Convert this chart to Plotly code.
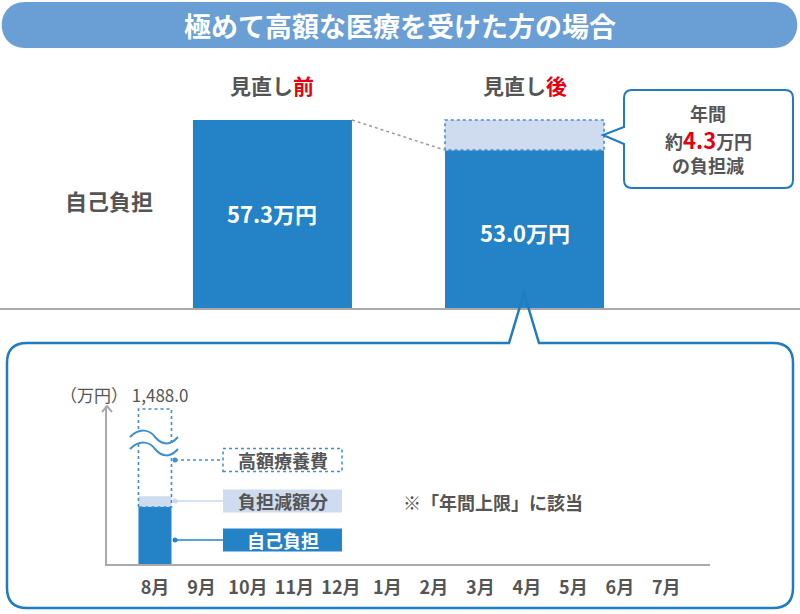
import plotly.graph_objects as go

W, H = 800, 614

# 見直し前後の自己負担（万円）
stages = ["見直し前", "見直し後"]
self_pay = [57.3, 53.0]
reduction = [None, 4.3]

# 月別（万円）
months = ["8月", "9月", "10月", "11月", "12月", "1月", "2月", "3月", "4月", "5月", "6月", "7月"]
month_self_pay = [53.0, None, None, None, None, None, None, None, None, None, None, None]
month_reduction = [4.3, None, None, None, None, None, None, None, None, None, None, None]
month_total = [1488.0, None, None, None, None, None, None, None, None, None, None, None]

BLUE = "#2383c6"
LIGHT = "#cfdcef"
BORDER = "#1f7bc2"
DOT_BLUE = "#3d8fd0"
GRAY = "#555555"
RED = "#e50012"
FONT = "Noto Sans CJK JP"

Y_FLOOR = 30.5       # 縦軸の下端（棒は途中から表示）
TOP_Y_MAX = 60.15
BOT_Y_MAX = 92.9
BREAK_CAP = 91.7     # 波線より上は省略


def px(x, y):
    return x / W, 1 - y / H


def path(cmds):
    # ピクセル座標のパスを paper 座標へ
    out = []
    for tok in cmds.split():
        if "," in tok:
            a, b = tok.split(",")
            xx, yy = px(float(a), float(b))
            out.append(f"{xx:.5f},{yy:.5f}")
        else:
            out.append(tok)
    return " ".join(out)


fig = go.Figure()

# ---- 上段 ----
xs = list(range(len(stages)))
bw = 0.631
fig.add_trace(go.Bar(x=xs, y=self_pay, width=bw, marker=dict(color=BLUE, line_width=0),
                     xaxis="x", yaxis="y", hoverinfo="skip"))
fig.add_trace(go.Bar(x=xs, y=reduction, base=self_pay, width=bw,
                     marker=dict(color=LIGHT, line_width=0), xaxis="x", yaxis="y", hoverinfo="skip"))
i = 1
x0, x1 = xs[i] - bw / 2, xs[i] + bw / 2
fig.add_trace(go.Scatter(x=[x0, x0, x1, x1, x0],
                         y=[self_pay[i], self_pay[i] + reduction[i], self_pay[i] + reduction[i], self_pay[i], self_pay[i]],
                         mode="lines", line=dict(color=DOT_BLUE, width=1.6, dash="dot"),
                         xaxis="x", yaxis="y", hoverinfo="skip"))
fig.add_trace(go.Scatter(x=[xs[0] + bw / 2, xs[1] - bw / 2], y=[self_pay[0], self_pay[1]],
                         mode="lines", line=dict(color="#999999", width=1.5, dash="dot"),
                         xaxis="x", yaxis="y", hoverinfo="skip"))

# ---- 下段 ----
mx = list(range(len(months)))
mw = 0.71
fig.add_trace(go.Bar(x=mx, y=month_self_pay, width=mw, marker=dict(color=BLUE, line_width=0),
                     xaxis="x2", yaxis="y2", hoverinfo="skip"))
fig.add_trace(go.Bar(x=mx, y=month_reduction, base=month_self_pay, width=mw,
                     marker=dict(color=LIGHT, line_width=0), xaxis="x2", yaxis="y2", hoverinfo="skip"))
for j, tot in enumerate(month_total):
    if tot is None:
        continue
    top = min(tot, BREAK_CAP)
    a, b = mx[j] - mw / 2, mx[j] + mw / 2
    s = month_self_pay[j]
    fig.add_trace(go.Scatter(x=[a, a, b, b, a], y=[s, top, top, s, s], mode="lines",
                             line=dict(color=DOT_BLUE, width=1.6, dash="dot"),
                             xaxis="x2", yaxis="y2", hoverinfo="skip"))

shapes = []
# タイトルの帯
shapes.append(dict(type="path", xref="paper", yref="paper",
                   path=path("M 25,2 L 774,2 C 805,2 805,48 774,48 L 25,48 C -6,48 -6,2 25,2 Z"),
                   fillcolor="#6a9fd5", line_width=0, layer="below"))
# 吹き出し（右）
shapes.append(dict(type="path", xref="paper", yref="paper",
                   path=path("M 632,90 L 785,90 Q 793,90 793,98 L 793,180 Q 793,188 785,188 "
                             "L 632,188 Q 624,188 624,180 L 624,144 L 603,135 L 624,127 L 624,98 Q 624,90 632,90 Z"),
                   fillcolor="white", line=dict(color=BORDER, width=2), layer="above"))
# 下段の枠
shapes.append(dict(type="path", xref="paper", yref="paper",
                   path=path("M 27,343 L 509,343 L 524,293 L 539,343 L 773,343 Q 793,343 793,363 "
                             "L 793,588 Q 793,608 773,608 L 27,608 Q 7,608 7,588 L 7,363 Q 7,343 27,343 Z"),
                   line=dict(color=BORDER, width=2.5), layer="above"))
# 縦軸の矢印
shapes.append(dict(type="path", xref="paper", yref="paper",
                   path=path("M 102,412 L 107,406 L 112,412"),
                   line=dict(color="#aaaaaa", width=2), layer="above"))
# 波線（省略記号）
shapes.append(dict(type="path", xref="paper", yref="paper",
                   path=path("M 130,437 C 140,427 150,430 155,437 C 162,445 170,446 178,437 "
                             "L 178,449 C 170,458 162,457 155,449 C 150,442 140,439 130,449 Z"),
                   fillcolor="white", line_width=0, layer="above"))
for dy in (0, 12):
    shapes.append(dict(type="path", xref="paper", yref="paper",
                       path=path(f"M 130,{437 + dy} C 140,{427 + dy} 150,{430 + dy} 155,{437 + dy} "
                                 f"C 162,{445 + dy} 170,{446 + dy} 178,{437 + dy}"),
                       line=dict(color=DOT_BLUE, width=2), layer="above"))

annotations = []


def ann(text, x, y, size, color=GRAY, weight="bold", xanchor="center", xref="paper"):
    xx, yy = px(x, y)
    if xref != "paper":
        xx = x
    annotations.append(dict(text=text, x=xx, y=yy, xref=xref, yref="paper", xanchor=xanchor,
                            yanchor="middle", showarrow=False,
                            font=dict(family=FONT, size=size, color=color, weight=weight)))


# 凡例ボックスと引き出し線
legend_items = [
    ("高額療養費", 460, "white", GRAY, dict(color=DOT_BLUE, width=1.5, dash="dot"), DOT_BLUE),
    ("負担減額分", 501, LIGHT, GRAY, dict(color="#c8d8ee", width=1.5), "#c8d8ee"),
    ("自己負担", 540, BLUE, "white", dict(color=BLUE, width=1.5), BLUE),
]
for label, cy, fill, tcolor, lead, dot in legend_items:
    bx0, by0 = px(223, cy - 11.5)
    bx1, by1 = px(342, cy + 11.5)
    border = dict(color=DOT_BLUE, width=1.5, dash="dot") if fill == "white" else dict(width=0)
    shapes.append(dict(type="rect", xref="paper", yref="paper", x0=bx0, x1=bx1, y0=by1, y1=by0,
                       fillcolor=fill, line=border, layer="above"))
    lx0, ly = px(175, cy)
    lx1, _ = px(223, cy)
    shapes.append(dict(type="line", xref="paper", yref="paper", x0=lx0, x1=lx1, y0=ly, y1=ly,
                       line=lead, layer="above"))
    cx0, cy0 = px(172.5, cy - 2.5)
    cx1, cy1 = px(177.5, cy + 2.5)
    shapes.append(dict(type="circle", xref="paper", yref="paper", x0=cx0, x1=cx1, y0=cy1, y1=cy0,
                       fillcolor=dot, line_width=0, layer="above"))
    ann(label, 282.5, cy, 18, color=tcolor)

ann("極めて高額な医療を受けた方の場合", 399.5, 25, 27, color="white")
for k, s in enumerate(stages):
    ann(f"{s[:-1]}<span style='color:{RED}'>{s[-1]}</span>", xs[k], 85, 21, xref="x")
ann("自己負担", 109, 200, 22)
ann(f"{self_pay[0]:.1f}万円", xs[0], 213, 22, color="white", xref="x")
ann(f"{self_pay[1]:.1f}万円", xs[1], 232, 22, color="white", xref="x")
diff = self_pay[0] - self_pay[1]
ann("年間", 708, 113, 18)
ann(f"約<span style='color:{RED};font-size:22px'>{diff:.1f}</span>万円", 708, 139, 18)
ann("の負担減", 708, 165, 18)
ann(f"（万円） {month_total[0]:,.1f}", 58, 395, 17, weight="normal", xanchor="left")
ann("※「年間上限」に該当", 493, 502, 18)

fig.update_layout(
    width=W, height=H, margin=dict(l=0, r=0, t=0, b=0),
    paper_bgcolor="white", plot_bgcolor="rgba(0,0,0,0)",
    barmode="overlay", showlegend=False,
    shapes=shapes, annotations=annotations,
    xaxis=dict(domain=[0, 1], range=[-1.081, 2.093], showline=True, linecolor="#aaaaaa", linewidth=2,
               showticklabels=False, ticks="", showgrid=False, zeroline=False, fixedrange=True),
    yaxis=dict(domain=[1 - 308 / H, 1 - 100 / H], range=[Y_FLOOR, TOP_Y_MAX], visible=False, fixedrange=True),
    xaxis2=dict(domain=[107 / W, 710 / W], range=[-1.032, 11.94], anchor="y2",
                tickvals=mx, ticktext=months, ticks="", ticklabelstandoff=6,
                tickfont=dict(family=FONT, size=18, color=GRAY, weight="bold"),
                showline=True, linecolor="#aaaaaa", linewidth=2,
                showgrid=False, zeroline=False, fixedrange=True),
    yaxis2=dict(domain=[1 - 564 / H, 1 - 406 / H], range=[Y_FLOOR, BOT_Y_MAX], anchor="x2",
                showline=True, linecolor="#aaaaaa", linewidth=2, showticklabels=False, ticks="",
                showgrid=False, zeroline=False, fixedrange=True),
)

# ページ余白を消して 800x614 にぴったり収める
fig.write_html("out.html", config={"displayModeBar": False},
               post_script="document.body.style.margin='0';document.body.style.overflow='hidden';")
